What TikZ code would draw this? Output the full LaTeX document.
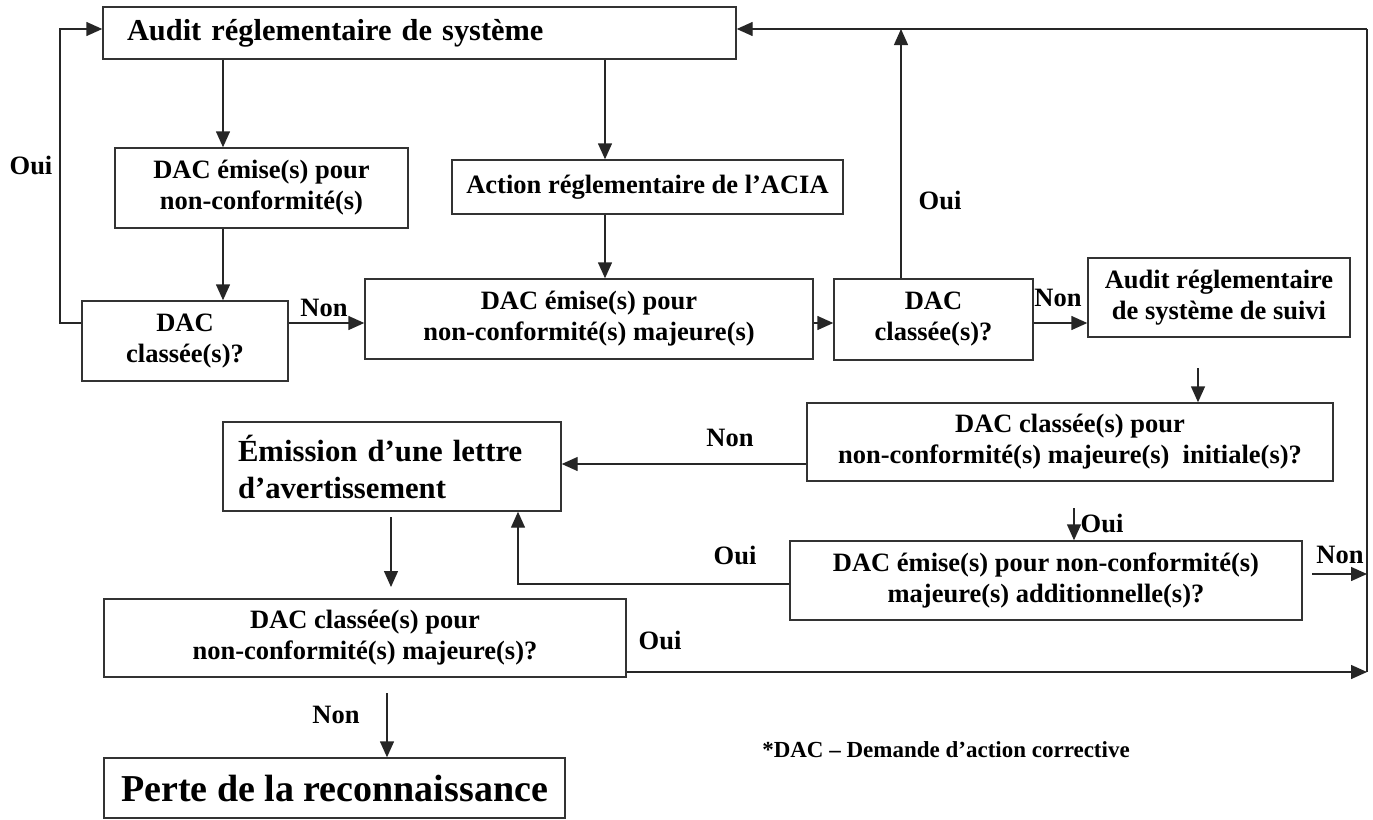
\documentclass[tikz,border=0pt]{standalone}
\usepackage{fontspec}
\setmainfont{Liberation Serif}
\usetikzlibrary{arrows.meta}
% font sizes used in the chart
\newcommand\fmid{\fontsize{26.5}{31}\selectfont\bfseries}
\newcommand\fbigA{\fontsize{30.4}{35}\selectfont\bfseries}
\newcommand\fbigB{\fontsize{30.7}{37}\selectfont\bfseries}
\newcommand\fhuge{\fontsize{38}{44}\selectfont\bfseries}
\newcommand\fnote{\fontsize{23}{27}\selectfont\bfseries}
\begin{document}
\begin{tikzpicture}[x=1pt,y=-1pt,
  box/.style={draw=black!80, line width=1.4pt, inner sep=0pt, align=center, font=\fmid},
  conn/.style={draw=black!85, line width=1.4pt},
  arr/.style={conn, -{Triangle[length=16pt,width=14pt]}},
  lbl/.style={inner sep=0pt, font=\fmid}
]
\useasboundingbox (0,0) rectangle (1373,819);

% boxes
\node[box, minimum width=633pt, minimum height=52pt, text width=585pt, align=left, font=\fbigA] (A) at (419.5,33) {Audit réglementaire de système};
\node[box, minimum width=293pt, minimum height=80pt] (B) at (261.5,188) {DAC émise(s) pour\\non-conformité(s)};
\node[box, minimum width=391pt, minimum height=54pt] (ACIA) at (647.5,187) {Action réglementaire de l’ACIA};
\node[box, minimum width=206pt, minimum height=80pt] (C1) at (185,341) {DAC\\classée(s)?};
\node[box, minimum width=448pt, minimum height=80pt] (D) at (589,319) {DAC émise(s) pour\\non-conformité(s) majeure(s)};
\node[box, minimum width=199pt, minimum height=81pt] (C2) at (933.5,319.5) {DAC\\classée(s)?};
\node[box, minimum width=262pt, minimum height=79pt] (E) at (1219,297.5) {Audit réglementaire\\de système de suivi};
\node[box, minimum width=526pt, minimum height=78pt] (F) at (1070,442) {DAC classée(s) pour\\non-conformité(s) majeure(s)\ \ initiale(s)?};
\node[box, minimum width=338pt, minimum height=89pt, text width=308pt, align=left, font=\fbigB] (W) at (392,466.5) {Émission d’une lettre\\d’avertissement};
\node[box, minimum width=512pt, minimum height=79pt] (G) at (1046,580.5) {DAC émise(s) pour non-conformité(s)\\majeure(s) additionnelle(s)?};
\node[box, minimum width=522pt, minimum height=78pt] (H) at (365,638) {DAC classée(s) pour\\non-conformité(s) majeure(s)?};
\node[box, minimum width=461pt, minimum height=60pt, font=\fhuge] (P) at (334.5,788) {Perte de la reconnaissance};

% bend points and free ends
\coordinate (L) at (60,323);
\coordinate (LT) at (60,29);
\coordinate (TR) at (1367,29);
\coordinate (BR) at (1367,672);
\coordinate (row) at (0,323);
\coordinate (cu) at (901,0);
\coordinate (ab) at (223,0);
\coordinate (ac) at (605,0);
\coordinate (fy) at (0,464);
\coordinate (gy) at (0,584);
\coordinate (gx) at (518,584);
\coordinate (gn) at (1312,574);
\coordinate (ef) at (1198,368);
\coordinate (fg) at (1074,508);
\coordinate (wh1) at (391,517);
\coordinate (wh2) at (391,587);
\coordinate (hp) at (387,693);

% connectors
\draw[arr] (A.south -| ab) -- (B.north -| ab);
\draw[arr] (B.south -| ab) -- (C1.north -| ab);
\draw[arr] (A.south -| ac) -- (ACIA.north -| ac);
\draw[arr] (ACIA.south -| ac) -- (D.north -| ac);
\draw[arr] (C1.west |- row) -- (L) -- (LT) -- (A.west |- LT);
\draw[arr] (C1.east |- row) -- (D.west |- row);
\draw[arr] (D.east |- row) -- (C2.west |- row);
\draw[arr] (C2.east |- row) -- (E.west |- row);
\draw[arr] (C2.north -| cu) -- (cu |- TR);
\draw[conn] (BR) -- (TR);
\draw[arr] (TR) -- (A.east |- TR);
\draw[arr] (ef) -- (F.north -| ef);
\draw[arr] (F.west |- fy) -- (W.east |- fy);
\draw[arr] (fg) -- (G.north -| fg);
\draw[arr] (G.west |- gy) -- (gx) -- (W.south -| gx);
\draw[arr] (gn) -- (gn -| BR);
\draw[arr] (wh1) -- (wh2);
\draw[arr] (H.east |- BR) -- (BR);
\draw[arr] (hp) -- (P.north -| hp);

% branch labels
\node[lbl] (o1) at (31,165) {Oui};
\node[lbl] (n1) at (324,308) {Non};
\node[lbl] (o2) at (940,200) {Oui};
\node[lbl] (n2) at (1058,298) {Non};
\node[lbl] (n3) at (730,438) {Non};
\node[lbl] (o3) at (1102,523) {Oui};
\node[lbl] (o4) at (735,555) {Oui};
\node[lbl] (n4) at (1340,555) {Non};
\node[lbl] (o5) at (660,640) {Oui};
\node[lbl] (n5) at (336,715) {Non};

% footnote
\node[inner sep=0pt, font=\fnote] (note) at (946,750) {*DAC – Demande d’action corrective};
\end{tikzpicture}
\end{document}
